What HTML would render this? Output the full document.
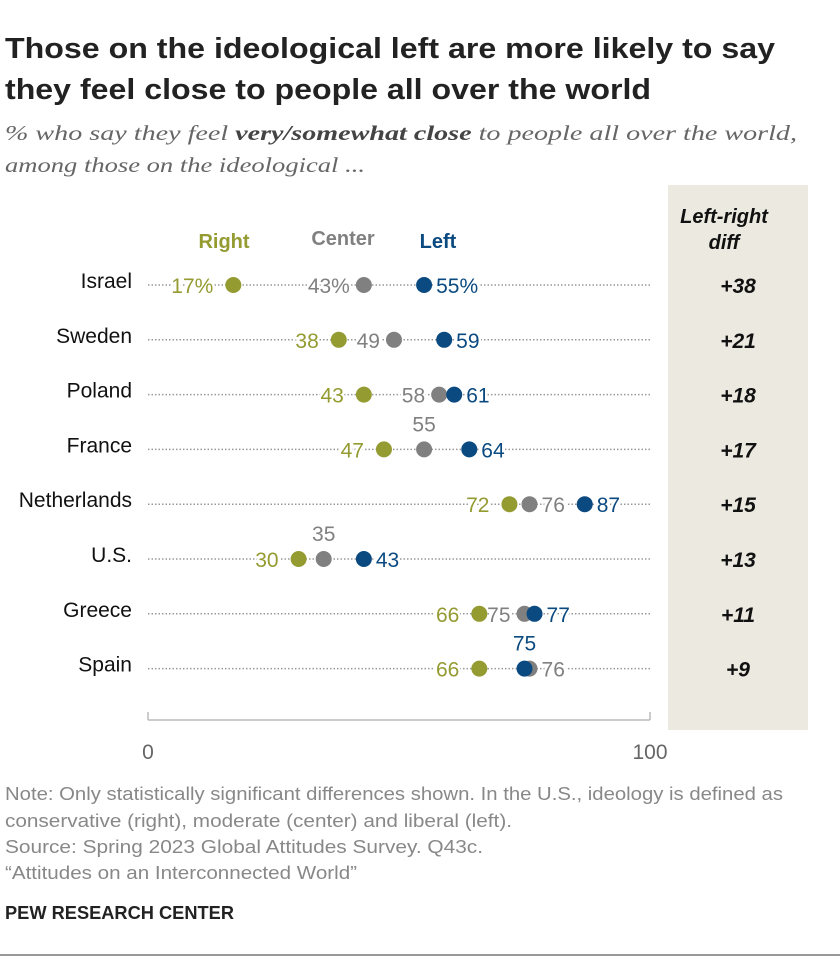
<!DOCTYPE html>
<html><head><meta charset="utf-8"><style>
body{margin:0;background:#fff;font-family:"Liberation Sans",sans-serif;}
svg text{font-family:"Liberation Sans",sans-serif;}
</style></head><body>
<svg width="840" height="960" xmlns="http://www.w3.org/2000/svg">
<text x="5" y="58" font-size="29" font-weight="bold" fill="#222" textLength="770" lengthAdjust="spacingAndGlyphs">Those on the ideological left are more likely to say</text>
<text x="5" y="99" font-size="29" font-weight="bold" fill="#222" textLength="646" lengthAdjust="spacingAndGlyphs">they feel close to people all over the world</text>
<text x="5" y="140" font-size="21" font-style="italic" fill="#666" textLength="792" lengthAdjust="spacingAndGlyphs" style="font-family:'Liberation Serif',serif">% who say they feel <tspan font-weight="bold" fill="#444">very/somewhat close</tspan> to people all over the world,</text>
<text x="5" y="172" font-size="21" font-style="italic" fill="#666" textLength="360" lengthAdjust="spacingAndGlyphs" style="font-family:'Liberation Serif',serif">among those on the ideological ...</text>
<rect x="668" y="185" width="140" height="545" fill="#ECE9E1"/>
<text x="724" y="223" font-size="20" font-weight="bold" font-style="italic" text-anchor="middle" fill="#111">Left-right</text>
<text x="724" y="249" font-size="20" font-weight="bold" font-style="italic" text-anchor="middle" fill="#111">diff</text>
<text x="224" y="248" font-size="20" font-weight="bold" text-anchor="middle" fill="#949B31">Right</text>
<text x="343" y="245" font-size="20" font-weight="bold" text-anchor="middle" fill="#808080">Center</text>
<text x="438" y="248" font-size="20" font-weight="bold" text-anchor="middle" fill="#0B4A80">Left</text>
<g id="rows"></g>
<line x1="148" y1="720" x2="650" y2="720" stroke="#bbb" stroke-width="1.5"/>
<g id="ticks"></g>
<text x="5" y="800" font-size="18" fill="#888" textLength="778" lengthAdjust="spacingAndGlyphs">Note: Only statistically significant differences shown. In the U.S., ideology is defined as</text>
<text x="5" y="827" font-size="18" fill="#888" textLength="507" lengthAdjust="spacingAndGlyphs">conservative (right), moderate (center) and liberal (left).</text>
<text x="5" y="853" font-size="18" fill="#888" textLength="478" lengthAdjust="spacingAndGlyphs">Source: Spring 2023 Global Attitudes Survey. Q43c.</text>
<text x="5" y="879" font-size="18" fill="#888" textLength="352" lengthAdjust="spacingAndGlyphs">“Attitudes on an Interconnected World”</text>
<text x="5" y="919" font-size="18" font-weight="bold" fill="#222" textLength="229" lengthAdjust="spacingAndGlyphs">PEW RESEARCH CENTER</text>
<line x1="0" y1="955" x2="840" y2="955" stroke="#333" stroke-width="1"/>
</svg>
<script>
const countries=["Israel","Sweden","Poland","France","Netherlands","U.S.","Greece","Spain"];
const rightVals=[17,38,43,47,72,30,66,66];
const centerVals=[43,49,58,55,76,35,75,76];
const leftVals=[55,59,61,64,87,43,77,75];
const diffs=["+38","+21","+18","+17","+15","+13","+11","+9"];
const centerPlace=["left","left","left","above","right","above","left","right"];
const leftPlace=["right","right","right","right","right","right","right","above"];
const xTicks=[0,100];
const NS="http://www.w3.org/2000/svg";
const x=v=>148+v*5.02;
const y=i=>285+i*54.8;
const rows=document.getElementById('rows');
function mk(tag,attrs,parent){const e=document.createElementNS(NS,tag);for(const k in attrs)e.setAttribute(k,attrs[k]);parent.appendChild(e);return e;}
function label(txt,cx,cy,place,color,g,name,gap){
  let tx=cx,ty=cy+8,anchor='middle';
  if(place==='left'){tx=cx-gap;anchor='end';}
  else if(place==='right'){tx=cx+12;anchor='start';}
  else if(place==='above'){ty=cy-18;}
  const t=mk('text',{x:tx,y:ty,'font-size':21,'text-anchor':anchor,fill:color,stroke:'#fff','stroke-width':5,'paint-order':'stroke'},g);
  t.textContent=txt;
  
  
}
countries.forEach((c,i)=>{
  const g=mk('g',{},rows);
  
  
  const cy=y(i);
  const ln=mk('line',{x1:x(0),y1:cy,x2:x(100),y2:cy,stroke:'#999','stroke-width':1.5,'stroke-dasharray':'1.5 2'},g);
  
  
  const ct=mk('text',{x:132,y:cy+3,'font-size':21,'text-anchor':'end',fill:'#111'},g);
  ct.textContent=c;
  
  
  const pct=i===0?'%':'';
  label(rightVals[i]+pct,x(rightVals[i]),cy,'left','#949B31',g,'right-value',20);
  label(centerVals[i]+pct,x(centerVals[i]),cy,centerPlace[i],'#808080',g,'center-value',14);
  label(leftVals[i]+pct,x(leftVals[i]),cy,leftPlace[i],'#0B4A80',g,'left-value',14);
  [[rightVals[i],'#949B31','right-dot'],[centerVals[i],'#808080','center-dot'],[leftVals[i],'#0B4A80','left-dot']].forEach(d=>{
    const e=mk('circle',{cx:x(d[0]),cy:cy,r:8,fill:d[1]},g);
    
    
  });
  const dt=mk('text',{x:738,y:cy+8,'font-size':21,'font-weight':'bold','font-style':'italic','text-anchor':'middle',fill:'#111'},g);
  dt.textContent=diffs[i];
  
  
});
const tk=document.getElementById('ticks');
xTicks.forEach(v=>{
  const l=mk('line',{x1:x(v),y1:712,x2:x(v),y2:720,stroke:'#bbb','stroke-width':1.5},tk);
  
  
  const t=mk('text',{x:x(v),y:759,'font-size':21,'text-anchor':'middle',fill:'#666'},tk);
  t.textContent=v;
  
  
});
</script>
</body></html>
